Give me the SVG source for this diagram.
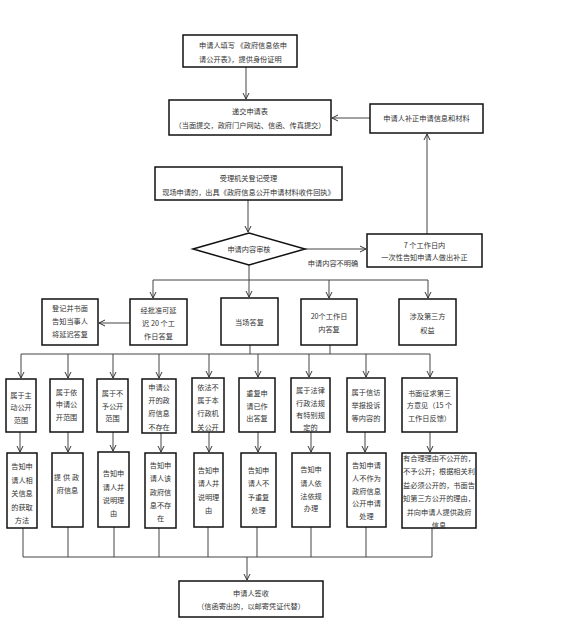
<svg xmlns="http://www.w3.org/2000/svg" width="564" height="618" viewBox="0 0 564 618">
<defs>
<style>
.box{fill:#fff;stroke:#111;stroke-width:1.5}
.t{font-family:"Noto Sans CJK SC","Noto Sans",sans-serif;font-size:7.2px;fill:#333;text-anchor:middle;dominant-baseline:central}
.s{text-anchor:start}
.c{fill:none;stroke:#444;stroke-width:1}
.a{marker-end:url(#arr)}
</style>
<marker id="arr" markerWidth="8" markerHeight="8" refX="7" refY="4" orient="auto" markerUnits="userSpaceOnUse">
<path d="M1,1 L7,4 L1,7" fill="none" stroke="#333" stroke-width="1"/>
</marker>
</defs>
<rect width="564" height="618" fill="#fff"/>
<g id="connectors">
<line class="c a" x1="246" y1="67" x2="246" y2="99"/>
<line class="c a" x1="370" y1="118" x2="332" y2="118"/>
<line class="c a" x1="248" y1="200" x2="248" y2="232"/>
<line class="c a" x1="305" y1="249" x2="366" y2="249"/>
<line class="c a" x1="427" y1="234" x2="427" y2="134"/>
<polyline class="c" points="249,265 249,280"/>
<line class="c" x1="153" y1="280" x2="428" y2="280"/>
<line class="c a" x1="153" y1="280" x2="153" y2="298"/>
<line class="c a" x1="249" y1="280" x2="249" y2="297"/>
<line class="c a" x1="329" y1="280" x2="329" y2="298"/>
<line class="c a" x1="428" y1="280" x2="428" y2="298"/>
<line class="c a" x1="130" y1="323" x2="99" y2="323"/>
<line class="c" x1="250" y1="345" x2="250" y2="354"/>
<line class="c" x1="330" y1="345" x2="330" y2="354"/>
<line class="c" x1="21" y1="354" x2="430" y2="354"/>
<line class="c a" x1="21" y1="354" x2="21" y2="378"/>
<line class="c a" x1="68" y1="354" x2="68" y2="378"/>
<line class="c a" x1="113" y1="354" x2="113" y2="378"/>
<line class="c a" x1="159" y1="354" x2="159" y2="378"/>
<line class="c a" x1="209" y1="354" x2="209" y2="377"/>
<line class="c a" x1="258" y1="354" x2="258" y2="377"/>
<line class="c a" x1="309" y1="354" x2="309" y2="377"/>
<line class="c a" x1="366" y1="354" x2="366" y2="377"/>
<line class="c a" x1="430" y1="354" x2="430" y2="377"/>
<line class="c a" x1="20" y1="432" x2="20" y2="452"/>
<line class="c a" x1="68" y1="432" x2="68" y2="452"/>
<line class="c a" x1="113" y1="432" x2="113" y2="451"/>
<line class="c a" x1="161" y1="433" x2="161" y2="452"/>
<line class="c a" x1="209" y1="432" x2="209" y2="452"/>
<line class="c a" x1="258" y1="432" x2="258" y2="452"/>
<line class="c a" x1="311" y1="432" x2="311" y2="452"/>
<line class="c a" x1="365" y1="432" x2="365" y2="452"/>
<line class="c a" x1="430" y1="432" x2="430" y2="452"/>
<line class="c" x1="23" y1="528" x2="23" y2="557"/>
<line class="c" x1="68" y1="527" x2="68" y2="557"/>
<line class="c" x1="114" y1="527" x2="114" y2="557"/>
<line class="c" x1="159" y1="528" x2="159" y2="557"/>
<line class="c" x1="208" y1="527" x2="208" y2="557"/>
<line class="c" x1="257" y1="527" x2="257" y2="557"/>
<line class="c" x1="311" y1="527" x2="311" y2="557"/>
<line class="c" x1="366" y1="527" x2="366" y2="557"/>
<line class="c" x1="432" y1="528" x2="432" y2="557"/>
<line class="c" x1="23" y1="557" x2="432" y2="557"/>
<line class="c a" x1="247" y1="557" x2="247" y2="580"/>
<text class="t" x="333" y="263">申请内容不明确</text>
</g>
<g id="n-fill">
<rect class="box" x="183" y="35" width="114" height="32"/>
<text class="t s" x="199" y="45">申请人填写 《政府信息依申</text>
<text class="t s" x="199" y="59">请公开表》，提供身份证明</text>
</g>
<g id="n-submit">
<rect class="box" x="169" y="100" width="162" height="35"/>
<text class="t" x="250" y="111">递交申请表</text>
<text class="t" x="250" y="125">（当面提交，政府门户网站、信函、传真提交）</text>
</g>
<g id="n-correct">
<rect class="box" x="370" y="104" width="113" height="29"/>
<text class="t" x="426.5" y="118">申请人补正申请信息和材料</text>
</g>
<g id="n-register">
<rect class="box" x="155" y="167" width="187" height="33"/>
<text class="t" x="248.5" y="178">受理机关登记受理</text>
<text class="t" x="248.5" y="192">现场申请的，出具《政府信息公开申请材料收件回执》</text>
</g>
<g id="n-review">
<polygon class="box" points="193,249 249,233 305,249 249,265"/>
<text class="t" x="249" y="249">申请内容审核</text>
</g>
<g id="n-7days">
<rect class="box" x="367" y="234" width="115" height="33"/>
<text class="t" x="424.5" y="245">7 个工作日内</text>
<text class="t" x="424.5" y="257">一次性告知申请人做出补正</text>
</g>
<g id="n-delaynotice">
<rect class="box" x="42" y="299" width="56" height="46"/>
<text class="t" x="70" y="308">登记并书面</text>
<text class="t" x="70" y="321">告知当事人</text>
<text class="t" x="70" y="334">将延迟答复</text>
</g>
<g id="n-delay">
<rect class="box" x="130" y="299" width="57" height="46"/>
<text class="t" x="158.5" y="310">经批准可延</text>
<text class="t" x="158.5" y="323">迟 20 个工</text>
<text class="t" x="158.5" y="336">作日答复</text>
</g>
<g id="n-onsite">
<rect class="box" x="221" y="298" width="57" height="47"/>
<text class="t" x="249.5" y="322">当场答复</text>
</g>
<g id="n-20days">
<rect class="box" x="301" y="299" width="56" height="46"/>
<text class="t" x="329" y="316">20个工作日</text>
<text class="t" x="329" y="329">内答复</text>
</g>
<g id="n-third">
<rect class="box" x="399" y="299" width="57" height="46"/>
<text class="t" x="427.5" y="316">涉及第三方</text>
<text class="t" x="427.5" y="330">权益</text>
</g>
<g id="r3a">
<rect class="box" x="6" y="379" width="30" height="53"/>
<text class="t" x="21" y="395">属于主</text>
<text class="t" x="21" y="407">动公开</text>
<text class="t" x="21" y="420">范围</text>
</g>
<g id="r3b">
<rect class="box" x="50" y="379" width="33" height="53"/>
<text class="t" x="66.5" y="392">属于依</text>
<text class="t" x="66.5" y="404">申请公</text>
<text class="t" x="66.5" y="417">开范围</text>
</g>
<g id="r3c">
<rect class="box" x="97" y="379" width="31" height="53"/>
<text class="t" x="112.5" y="393">属于不</text>
<text class="t" x="112.5" y="406">予公开</text>
<text class="t" x="112.5" y="418">范围</text>
</g>
<g id="r3d">
<rect class="box" x="142" y="379" width="34" height="54"/>
<text class="t" x="159" y="387">申请公</text>
<text class="t" x="159" y="400">开的政</text>
<text class="t" x="159" y="413">府信息</text>
<text class="t" x="159" y="427">不存在</text>
</g>
<g id="r3e">
<rect class="box" x="192" y="378" width="32" height="54"/>
<text class="t" x="208" y="387">依法不</text>
<text class="t" x="208" y="400">属于本</text>
<text class="t" x="208" y="413">行政机</text>
<text class="t" x="208" y="427">关公开</text>
</g>
<g id="r3f">
<rect class="box" x="239" y="378" width="36" height="54"/>
<text class="t" x="257" y="393">重复申</text>
<text class="t" x="257" y="406">请已作</text>
<text class="t" x="257" y="418">出答复</text>
</g>
<g id="r3g">
<rect class="box" x="291" y="378" width="39" height="54"/>
<text class="t" x="310.5" y="390">属于法律</text>
<text class="t" x="310.5" y="403">行政法规</text>
<text class="t" x="310.5" y="415">有特别规</text>
<text class="t" x="310.5" y="427">定的</text>
</g>
<g id="r3h">
<rect class="box" x="347" y="378" width="38" height="54"/>
<text class="t" x="366" y="392">属于信访</text>
<text class="t" x="366" y="405">举报投诉</text>
<text class="t" x="366" y="418">等内容的</text>
</g>
<g id="r3i">
<rect class="box" x="402" y="378" width="55" height="54"/>
<text class="t" x="429.5" y="393">书面征求第三</text>
<text class="t" x="429.5" y="405">方意见（15 个</text>
<text class="t" x="429.5" y="418">工作日反馈）</text>
</g>
<g id="r4a">
<rect class="box" x="7" y="453" width="30" height="75"/>
<text class="t" x="22" y="466">告知申</text>
<text class="t" x="22" y="480">请人相</text>
<text class="t" x="22" y="493">关信息</text>
<text class="t" x="22" y="507">的获取</text>
<text class="t" x="22" y="520">方法</text>
</g>
<g id="r4b">
<rect class="box" x="52" y="453" width="31" height="74"/>
<text class="t" x="67.5" y="477" letter-spacing="2">提供政</text>
<text class="t" x="67.5" y="490">府信息</text>
</g>
<g id="r4c">
<rect class="box" x="98" y="452" width="31" height="75"/>
<text class="t" x="113.5" y="473">告知申</text>
<text class="t" x="113.5" y="487">请人并</text>
<text class="t" x="113.5" y="500">说明理</text>
<text class="t" x="113.5" y="513">由</text>
</g>
<g id="r4d">
<rect class="box" x="145" y="453" width="31" height="75"/>
<text class="t" x="160.5" y="465">告知申</text>
<text class="t" x="160.5" y="478">请人该</text>
<text class="t" x="160.5" y="492">政府信</text>
<text class="t" x="160.5" y="505">息不存</text>
<text class="t" x="160.5" y="518">在</text>
</g>
<g id="r4e">
<rect class="box" x="194" y="453" width="29" height="74"/>
<text class="t" x="208.5" y="470">告知申</text>
<text class="t" x="208.5" y="483">请人并</text>
<text class="t" x="208.5" y="497">说明理</text>
<text class="t" x="208.5" y="510">由</text>
</g>
<g id="r4f">
<rect class="box" x="241" y="453" width="35" height="74"/>
<text class="t" x="258.5" y="470">告知申</text>
<text class="t" x="258.5" y="483">请人不</text>
<text class="t" x="258.5" y="497">予重复</text>
<text class="t" x="258.5" y="510">处理</text>
</g>
<g id="r4g">
<rect class="box" x="292" y="453" width="38" height="74"/>
<text class="t" x="311" y="469">告知申</text>
<text class="t" x="311" y="483">请人依</text>
<text class="t" x="311" y="496">法依规</text>
<text class="t" x="311" y="508">办理</text>
</g>
<g id="r4h">
<rect class="box" x="347" y="453" width="39" height="74"/>
<text class="t" x="366.5" y="465">告知申请</text>
<text class="t" x="366.5" y="478">人不作为</text>
<text class="t" x="366.5" y="491">政府信息</text>
<text class="t" x="366.5" y="503">公开申请</text>
<text class="t" x="366.5" y="516">处理</text>
</g>
<g id="r4i">
<rect class="box" x="402" y="453" width="74" height="75"/>
<text class="t" x="439" y="457.5">有合理理由不公开的，</text>
<text class="t" x="439" y="471">不予公开；根据相关利</text>
<text class="t" x="439" y="484.5">益必须公开的，书面告</text>
<text class="t" x="439" y="498">知第三方公开的理由，</text>
<text class="t" x="439" y="511.5">并向申请人提供政府</text>
<text class="t" x="439" y="524.5">信息</text>
</g>
<g id="n-sign">
<rect class="box" x="179" y="581" width="144" height="36"/>
<text class="t" x="251" y="593">申请人签收</text>
<text class="t" x="251" y="606">（信函寄出的，以邮寄凭证代替）</text>
</g>
</svg>
